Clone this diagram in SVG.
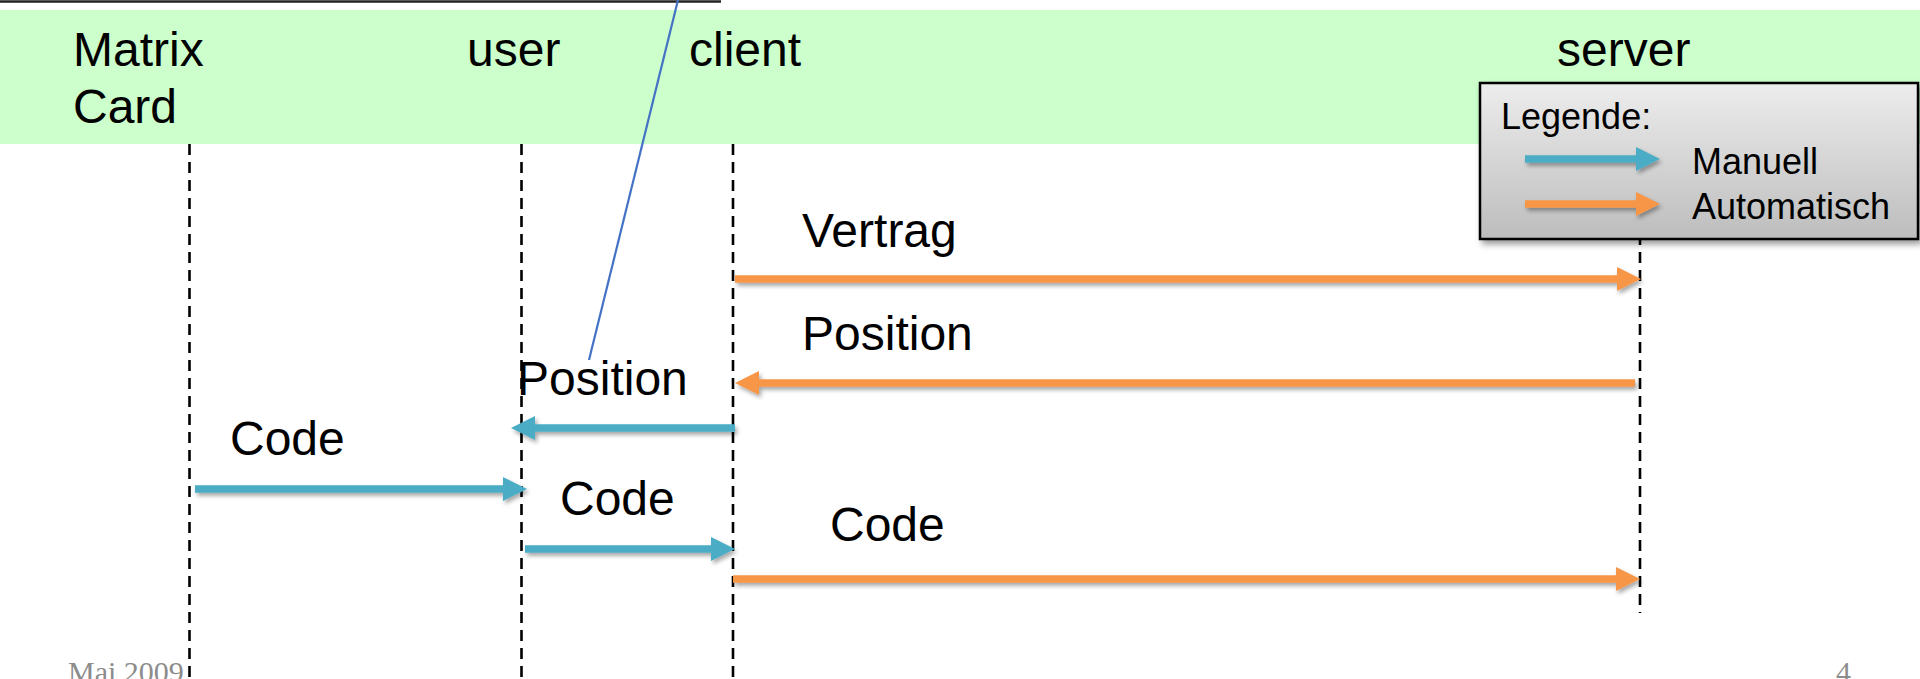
<svg xmlns="http://www.w3.org/2000/svg" width="1920" height="679" viewBox="0 0 1920 679">
  <style>
    .lbl { font-family: "Liberation Sans", Arial, sans-serif; font-size: 48px; fill: #000; }
    .leg { font-family: "Liberation Sans", Arial, sans-serif; font-size: 36px; fill: #000; }
    .foot { font-family: "Liberation Serif", "Times New Roman", serif; font-size: 30px; fill: #8c8c8c; }
    .life { stroke: #000; stroke-width: 2.6; stroke-dasharray: 11 7; fill: none; }
    .auto { stroke: #F79646; stroke-width: 7.5; fill: none; }
    .man { stroke: #4BACC6; stroke-width: 7.5; fill: none; }
  </style>
  <defs>
    <marker id="headO" markerUnits="userSpaceOnUse" markerWidth="24" markerHeight="24" refX="0" refY="12" orient="auto">
      <path d="M0,0 L24,12 L0,24 Z" fill="#F79646"/>
    </marker>
    <marker id="headB" markerUnits="userSpaceOnUse" markerWidth="24" markerHeight="24" refX="0" refY="12" orient="auto">
      <path d="M0,0 L24,12 L0,24 Z" fill="#4BACC6"/>
    </marker>
    <filter id="shadow" filterUnits="userSpaceOnUse" x="0" y="0" width="1920" height="679">
      <feDropShadow dx="2" dy="3" stdDeviation="2" flood-color="#000" flood-opacity="0.35"/>
    </filter>
    <filter id="boxshadow" filterUnits="userSpaceOnUse" x="0" y="0" width="1920" height="679">
      <feDropShadow dx="3" dy="4" stdDeviation="3" flood-color="#000" flood-opacity="0.4"/>
    </filter>
    <linearGradient id="legGrad" x1="0" y1="0" x2="0" y2="1">
      <stop offset="0" stop-color="#EDEDED"/>
      <stop offset="1" stop-color="#BDBDBD"/>
    </linearGradient>
  </defs>

  <rect x="0" y="0" width="1920" height="679" fill="#fff"/>
  <line x1="0" y1="1.5" x2="721" y2="1.5" stroke="#222" stroke-width="2.5"/>
  <rect id="header-band" x="0" y="10" width="1920" height="134" fill="#CCFFCC"/>

  <g id="node-matrixcard">
    <text class="lbl" x="73" y="66">Matrix</text>
    <text class="lbl" x="73" y="123">Card</text>
    <line class="life" x1="189.5" y1="144" x2="189.5" y2="679"/>
  </g>
  <g id="node-user">
    <text class="lbl" x="467" y="66">user</text>
    <line class="life" x1="521.5" y1="144" x2="521.5" y2="679"/>
  </g>
  <g id="node-client">
    <text class="lbl" x="689" y="66">client</text>
    <line class="life" x1="733" y1="144" x2="733" y2="679"/>
  </g>
  <g id="node-server">
    <text class="lbl" x="1557" y="66">server</text>
    <line class="life" x1="1640" y1="144" x2="1640" y2="613"/>
  </g>

  <g id="connectors">
    <line x1="678" y1="0" x2="589" y2="360" stroke="#4472C4" stroke-width="2.2"/>
    <g filter="url(#shadow)">
      <line class="auto" x1="735" y1="279" x2="1617" y2="279" marker-end="url(#headO)"/>
      <line class="auto" x1="1635" y1="383" x2="759" y2="383" marker-end="url(#headO)"/>
      <line class="man" x1="735" y1="428" x2="535" y2="428" marker-end="url(#headB)"/>
      <line class="man" x1="195" y1="489" x2="503" y2="489" marker-end="url(#headB)"/>
      <line class="man" x1="525" y1="549" x2="711" y2="549" marker-end="url(#headB)"/>
      <line class="auto" x1="733" y1="579" x2="1616" y2="579" marker-end="url(#headO)"/>
    </g>
    <text class="lbl" x="802" y="247">Vertrag</text>
    <text class="lbl" x="802" y="350">Position</text>
    <text class="lbl" x="517" y="395">Position</text>
    <text class="lbl" x="230" y="455">Code</text>
    <text class="lbl" x="560" y="515">Code</text>
    <text class="lbl" x="830" y="541">Code</text>
  </g>

  <g id="legend">
    <rect x="1480" y="83" width="438" height="156" fill="url(#legGrad)" stroke="#000" stroke-width="2.5" filter="url(#boxshadow)"/>
    <text class="leg" x="1501" y="129">Legende:</text>
    <g filter="url(#shadow)">
      <line class="man" x1="1525" y1="159" x2="1636" y2="159" marker-end="url(#headB)"/>
      <line class="auto" x1="1525" y1="204" x2="1636" y2="204" marker-end="url(#headO)"/>
    </g>
    <text class="leg" x="1692" y="174">Manuell</text>
    <text class="leg" x="1692" y="219">Automatisch</text>
  </g>

  <text class="foot" x="68" y="682">Mai 2009</text>
  <text class="foot" x="1836" y="682">4</text>
</svg>
